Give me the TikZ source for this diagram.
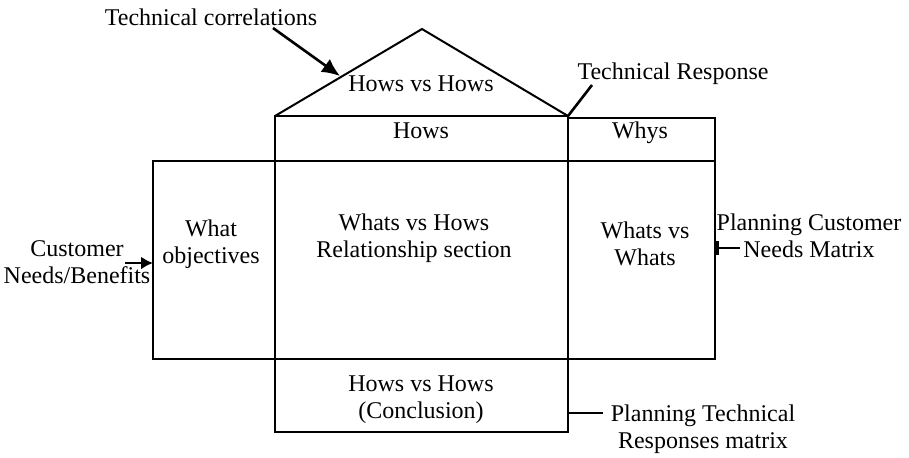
\documentclass[tikz,border=0pt]{standalone}
\usepackage{fontspec}
\setmainfont{Liberation Serif}
\usetikzlibrary{arrows.meta}
\begin{document}
\begin{tikzpicture}[x=0.5pt,y=-0.5pt,
  box/.style={draw=black,line width=1pt,rectangle,anchor=north west,inner sep=0pt,outer sep=0pt},
  lbl/.style={align=center,inner sep=0pt,font=\fontsize{12}{13.5}\selectfont},
  conn/.style={line width=1.3pt}]
\useasboundingbox (0,0) rectangle (909,457);
% boxes
\node[box,minimum width=61pt,minimum height=99pt] (lb) at (153,161) {};
\node[box,minimum width=146.5pt,minimum height=99pt] (cb) at (275,161) {};
\node[box,minimum width=73.5pt,minimum height=99pt] (rb) at (568,161) {};
\node[box,minimum width=146.5pt,minimum height=22.5pt] (hows) at (275,116) {};
\node[box,minimum width=73.5pt,minimum height=21.5pt] (whys) at (568,118) {};
\node[box,minimum width=146.5pt,minimum height=36.5pt] (bot) at (275,359) {};
% roof
\coordinate (apex) at (422,29);
\draw[line width=1pt,line join=miter] (hows.north west) -- (apex) -- (hows.north east);
% texts
\node[lbl] (tc) at (211,17) {Technical correlations};
\node[lbl] (hvh) at (421,84) {Hows vs Hows};
\node[lbl] (tr) at (673,74) {Technical Response};
\node[lbl] (howst) at (421,131) {Hows};
\node[lbl] (whyst) at (640,133) {Whys};
\node[lbl] (what) at (211,244) {What\\objectives};
\node[lbl] (rel) at (414,238) {Whats vs Hows\\Relationship section};
\node[lbl] (wvw) at (645,244) {Whats vs\\Whats};
\node[lbl] (concl) at (421,400) {Hows vs Hows\\(Conclusion)};
\node[lbl] (cust) at (77,262) {Customer\\Needs/Benefits};
\node[lbl] (pcn) at (809,236) {Planning Customer\\Needs Matrix};
\node[lbl] (ptr) at (703,429) {Planning Technical\\Responses matrix};
% connectors
\coordinate (tcs) at (273,28);
\coordinate (tce) at (340,76);
\draw[conn,-{Latex[length=9pt,width=8pt]}] (tcs) -- (tce);
\coordinate (tre) at (592,85);
\draw[conn] (hows.north east) -- (tre);
\coordinate (cas) at (125,263);
\draw[conn,-{Latex[length=6pt,width=6.5pt]}] (cas) -- (cas -| lb.west);
\coordinate (pce) at (740,248);
\draw[conn,{Bar[width=7pt,line width=2pt]}-] (pce -| rb.east) -- (pce);
\coordinate (pte) at (603,413);
\draw[conn] (pte -| bot.east) -- (pte);
\end{tikzpicture}
\end{document}
